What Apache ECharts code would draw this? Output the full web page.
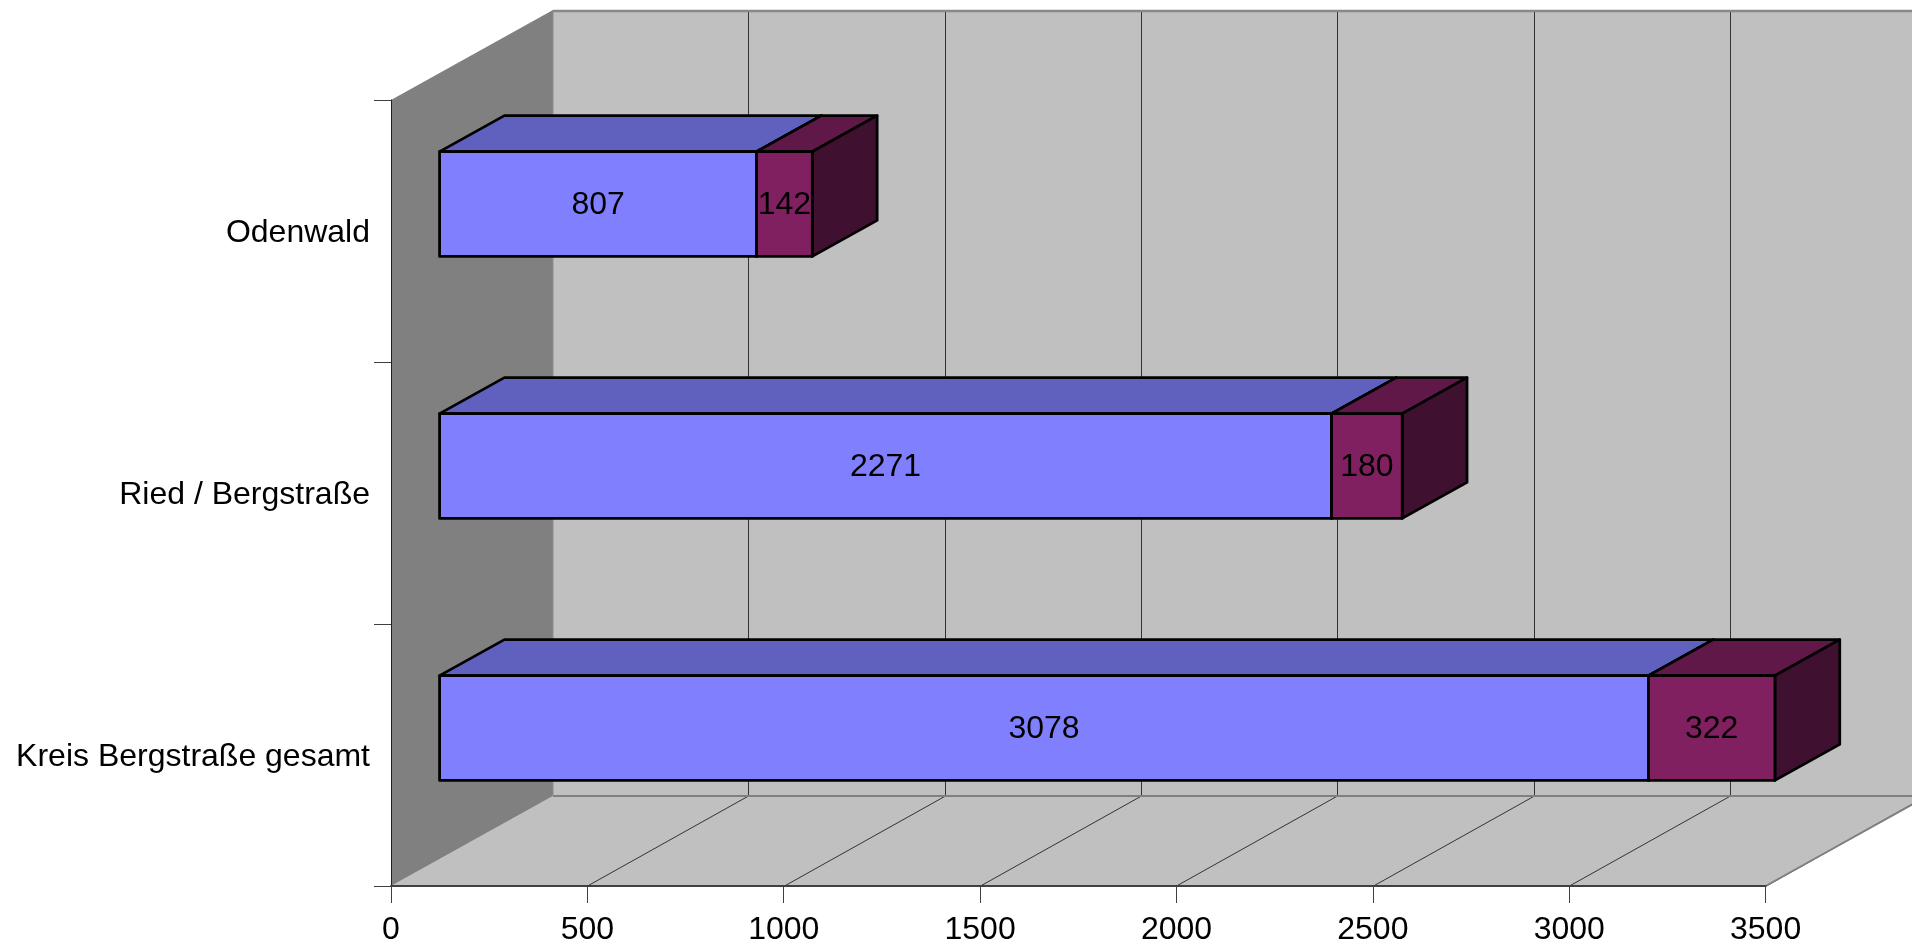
<!DOCTYPE html>
<html><head><meta charset="utf-8">
<style>html,body{margin:0;padding:0;background:#fff}#c{width:1912px;height:944px}</style>
<script src="https://cdn.jsdelivr.net/npm/echarts@6/dist/echarts.min.js"></script>
</head><body><div id="c"></div>
<script>
const categories = ['Kreis Bergstraße gesamt', 'Ried / Bergstraße', 'Odenwald'];
const seriesA = [3078, 2271, 807];
const seriesB = [322, 180, 142];
const axisMax = 3500;
const axisStep = 500;
const gridValues = [0, 500, 1000, 1500, 2000, 2500, 3000, 3500];

const FONT = '"Liberation Sans", Arial, sans-serif';
const DX = 162, DY = -90;           // full floor depth on screen
const NEAR = 0.3, FAR = 0.7;        // bar position inside the depth
const BAR = 0.4;                    // bar height as a share of the category band

function poly(points, fill, stroke, lw) {
  return { type: 'polygon', shape: { points }, style: { fill, stroke: stroke || 'none', lineWidth: lw || 0, lineJoin: 'round' } };
}
function line(x1, y1, x2, y2, stroke, lw) {
  return { type: 'line', shape: { x1, y1, x2, y2 }, style: { stroke, lineWidth: lw || 1, fill: 'none' }, silent: true };
}
function renderWalls(params, api) {
  const band = api.size([0, 1])[1];
  const x0 = api.coord([0, 0])[0];
  const x1 = api.coord([axisMax, 0])[0];
  const y0 = api.coord([0, 0])[1] + band / 2;
  const yTop = api.coord([0, categories.length - 1])[1] - band / 2;
  const kids = [
    poly([[x0, y0], [x0 + DX, y0 + DY], [x1 + DX, y0 + DY], [x1, y0]], '#C0C0C0'),
    poly([[x0 + DX, yTop + DY], [x1 + DX, yTop + DY], [x1 + DX, y0 + DY], [x0 + DX, y0 + DY]], '#C0C0C0'),
    poly([[x0, yTop], [x0 + DX, yTop + DY], [x0 + DX, y0 + DY], [x0, y0]], '#808080')
  ];
  gridValues.slice(1).forEach(v => {
    const x = api.coord([v, 0])[0];
    const bx = Math.floor(x + DX - 0.7) + 0.5;
    kids.push(line(bx, yTop + DY, bx, y0 + DY, '#333333', 1));
    kids.push(line(Math.round(x) + 0.5, y0, bx, y0 + DY, '#333333', 1));
  });
  kids.push(line(x0 + DX, yTop + DY + 1, x1 + DX, yTop + DY + 1, '#888888', 2.4));
  kids.push(line(x0 + DX, y0 + DY, x1 + DX, y0 + DY, '#808080', 2));
  kids.push(line(x1, y0, x1 + DX, y0 + DY, '#808080', 2));
  kids.push(line(x0 + DX, yTop + DY, x0 + DX, y0 + DY, '#8C8C8C', 1));
  return { type: 'group', children: kids };
}
function makeBars(front, top, side) {
  return function (params, api) {
    const start = api.value(0), len = api.value(1), cat = api.value(2);
    const p0 = api.coord([start, cat]);
    const p1 = api.coord([start + len, cat]);
    const band = api.size([0, 1])[1];
    const h = band * BAR;
    const nx = DX * NEAR, ny = DY * NEAR;
    const dx = DX * (FAR - NEAR), dy = DY * (FAR - NEAR);
    const l = p0[0] + nx, r = p1[0] + nx;
    const t = p0[1] + ny - h / 2, b = t + h;
    const S = '#000000', W = 2.8;
    return {
      type: 'group',
      children: [
        poly([[l, t], [l + dx, t + dy], [r + dx, t + dy], [r, t]], top, S, W),
        poly([[r, t], [r + dx, t + dy], [r + dx, b + dy], [r, b]], side, S, W),
        poly([[l, t], [r, t], [r, b], [l, b]], front, S, W),
        { type: 'text', z2: 10, style: { text: String(len), x: (l + r) / 2, y: (t + b) / 2 + 1,
          align: 'center', verticalAlign: 'middle', fill: '#000', font: '32px ' + FONT } }
      ]
    };
  };
}
const dataA = seriesA.map((v, i) => [0, v, i]);
const dataB = seriesB.map((v, i) => [seriesA[i], v, i]);

const chart = echarts.init(document.getElementById('c'), null, { renderer: 'canvas' });
chart.setOption({
  animation: false,
  backgroundColor: '#fff',
  grid: { left: 391, top: 100, width: 1374.6, height: 786, containLabel: false, outerBoundsMode: 'none' },
  xAxis: {
    type: 'value', min: 0, max: axisMax, interval: axisStep, z: 5,
    axisLine: { show: true, lineStyle: { color: '#404040', width: 2 } },
    axisTick: { show: true, length: 17, lineStyle: { color: '#404040', width: 1 } },
    axisLabel: { color: '#000', fontSize: 32, fontFamily: FONT, margin: 28, showMinLabel: true, showMaxLabel: true, formatter: v => String(v) },
    splitLine: { show: false }
  },
  yAxis: {
    type: 'category', data: categories, z: 5,
    axisLine: { show: true, lineStyle: { color: '#202020', width: 1 } },
    axisTick: { show: true, length: 17, lineStyle: { color: '#404040', width: 1 } },
    axisLabel: { color: '#000', fontSize: 32, fontFamily: FONT, margin: 21, interval: 0,
      formatter: v => '{a|' + v + '}',
      rich: { a: { color: '#000', fontSize: 32, fontFamily: FONT, padding: [5, 0, 0, 0] } } },
    splitLine: { show: false }
  },
  series: [
    { type: 'custom', name: 'walls', z: 1, silent: true, clip: false, renderItem: renderWalls, data: [[0, 0, 0]], encode: { x: 0, y: 2 } },
    { type: 'custom', name: 'A', z: 2, silent: true, clip: false, renderItem: makeBars('#8080FF', '#6060BF', '#6060BF'), data: dataA, encode: { x: [0, 1], y: 2 } },
    { type: 'custom', name: 'B', z: 3, silent: true, clip: false, renderItem: makeBars('#802060', '#601848', '#401030'), data: dataB, encode: { x: [0, 1], y: 2 } }
  ]
});
</script></body></html>
